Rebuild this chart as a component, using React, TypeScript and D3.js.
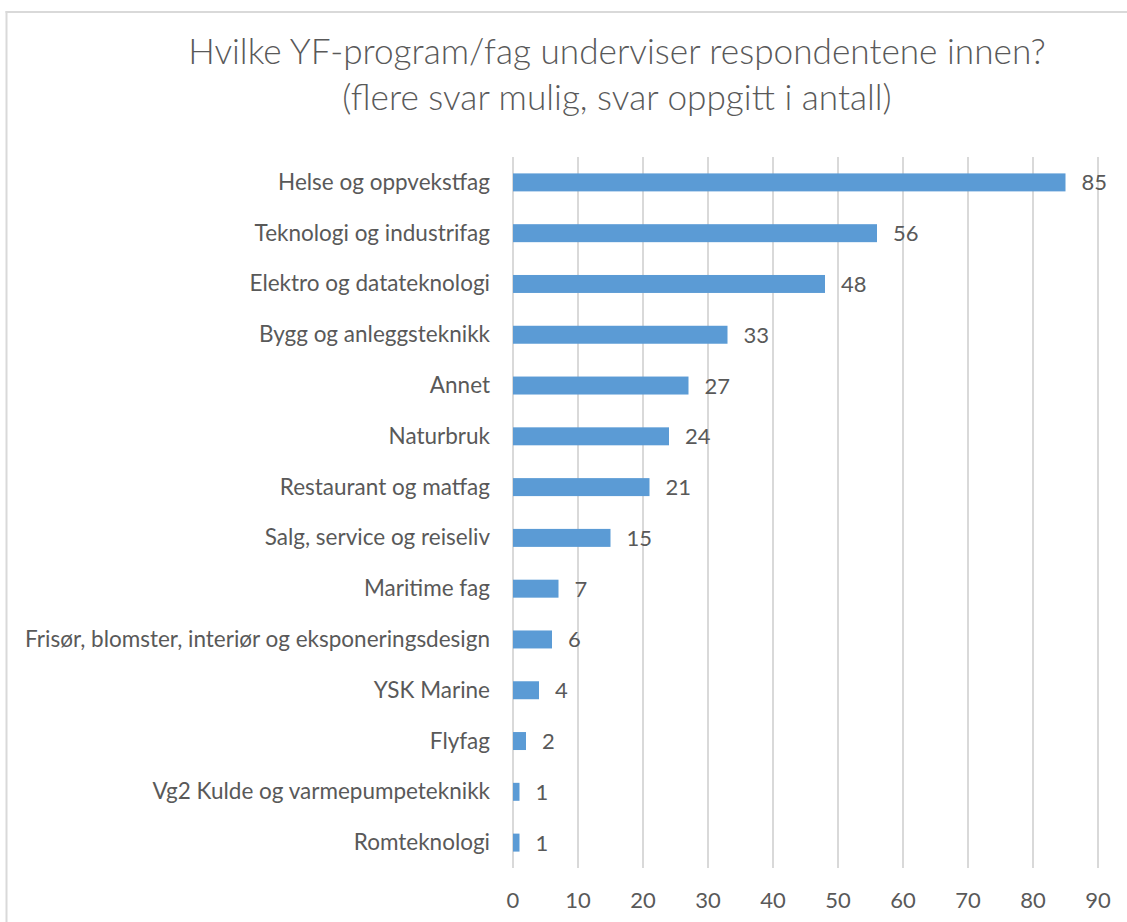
import React from "react";
import * as d3 from "d3";

const categories = [
  "Helse og oppvekstfag",
  "Teknologi og industrifag",
  "Elektro og datateknologi",
  "Bygg og anleggsteknikk",
  "Annet",
  "Naturbruk",
  "Restaurant og matfag",
  "Salg, service og reiseliv",
  "Maritime fag",
  "Frisør, blomster, interiør og eksponeringsdesign",
  "YSK Marine",
  "Flyfag",
  "Vg2 Kulde og varmepumpeteknikk",
  "Romteknologi",
];
const values = [85, 56, 48, 33, 27, 24, 21, 15, 7, 6, 4, 2, 1, 1];
const xTicks = [0, 10, 20, 30, 40, 50, 60, 70, 80, 90];
const titleLines = [
  "Hvilke YF-program/fag underviser respondentene innen?",
  "(flere svar mulig, svar oppgitt i antall)",
];

const W = 1127;
const H = 922;
const plotLeft = 513;
const plotRight = 1098;
const plotTop = 157;
const plotBottom = 868;
const textColor = "#595959";
const gridColor = "#d9d9d9";
const barColor = "#5b9bd5";
const font = "Lato, 'Open Sans', sans-serif";

export default function App() {
  const x = d3.scaleLinear().domain([0, 90]).range([plotLeft, plotRight]);
  const y = d3
    .scaleBand<string>()
    .domain(categories)
    .range([plotTop, plotBottom])
    .paddingInner(0.646)
    .paddingOuter(0.323);
  const bw = y.bandwidth();

  return (
    <svg
      width={W}
      height={H}
      style={{ position: "absolute", left: 0, top: 0, background: "#fff" }}
      fontFamily={font}
    >
      <rect x={0} y={0} width={W} height={H} fill="#fff" />
      {/* chart frame */}
      <line x1={5.5} y1={12} x2={W} y2={12} stroke={gridColor} strokeWidth={2} />
      <line x1={6.5} y1={11} x2={6.5} y2={H} stroke={gridColor} strokeWidth={2} />

      {/* title */}
      <text
        x={617}
        y={64}
        textAnchor="middle"
        fontSize={35.2}
        fontWeight={300}
        fill={textColor}
      >
        {titleLines[0]}
      </text>
      <text
        x={617}
        y={110}
        textAnchor="middle"
        fontSize={35.2}
        fontWeight={300}
        fill={textColor}
      >
        {titleLines[1]}
      </text>

      {/* gridlines */}
      {xTicks.map((t) => (
        <line
          key={"g" + t}
          x1={x(t)}
          x2={x(t)}
          y1={plotTop}
          y2={plotBottom}
          stroke={gridColor}
          strokeWidth={2}
        />
      ))}

      {/* tick labels */}
      {xTicks.map((t) => (
        <text
          key={"t" + t}
          x={x(t)}
          y={908}
          textAnchor="middle"
          fontSize={22}
          fill={textColor}
        >
          {t}
        </text>
      ))}

      {/* bars */}
      {categories.map((c, i) => {
        const yy = y(c) as number;
        const cy = yy + bw / 2;
        return (
          <g key={c}>
            <rect
              x={x(0)}
              y={yy}
              width={x(values[i]) - x(0)}
              height={bw}
              fill={barColor}
            />
            <text
              x={plotLeft - 23}
              y={cy + 7.5}
              textAnchor="end"
              fontSize={22.5}
              fill={textColor}
            >
              {c}
            </text>
            <text
              x={x(values[i]) + 16}
              y={cy + 8}
              textAnchor="start"
              fontSize={22}
              fill={textColor}
            >
              {values[i]}
            </text>
          </g>
        );
      })}
    </svg>
  );
}
